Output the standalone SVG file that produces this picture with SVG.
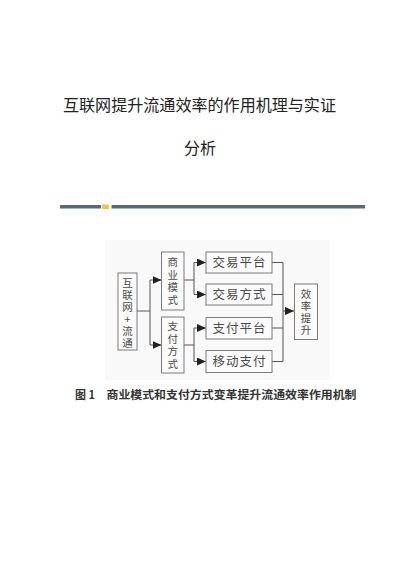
<svg xmlns="http://www.w3.org/2000/svg" width="400" height="565" viewBox="0 0 400 565">
<style>
.title{font-family:"Noto Sans CJK SC","Noto Sans CJK JP",sans-serif;font-size:16px;fill:#222;}
.box{fill:#fbfbfb;stroke:#7a7a7a;stroke-width:1;}
.lbl{font-family:"Noto Sans CJK SC",sans-serif;font-size:10.5px;fill:#4a4a4a;text-anchor:middle;}
.hl{font-family:"Noto Sans CJK SC",sans-serif;font-size:12.5px;fill:#4a4a4a;text-anchor:middle;letter-spacing:1px;}
.cap{font-family:"Noto Sans CJK SC",sans-serif;font-size:11px;font-weight:bold;fill:#333;}
.ln{fill:none;stroke:#555;stroke-width:1;}
</style>
<defs>
<marker id="ah" markerWidth="9" markerHeight="8" refX="9" refY="4" orient="auto" markerUnits="userSpaceOnUse">
<path d="M0,0 L9,4 L0,8 Z" fill="#222"/>
</marker>
</defs>
<rect width="400" height="565" fill="#ffffff"/>
<text class="title" x="63" y="111" textLength="273" lengthAdjust="spacingAndGlyphs">互联网提升流通效率的作用机理与实证</text>
<text class="title" x="200" y="154" text-anchor="middle">分析</text>
<rect x="60" y="205" width="41" height="3.5" fill="#566b78"/>
<rect x="102" y="204.5" width="7" height="4.5" fill="#f0c64a"/>
<rect x="111.5" y="205" width="253.5" height="3.5" fill="#566b78"/>
<rect x="105" y="240" width="225" height="140" fill="#f9f9f9"/>
<g id="connectors">
<path class="ln" d="M137,311 H150 M150,280 V345"/>
<path class="ln" d="M150,280 H161.5" marker-end="url(#ah)"/>
<path class="ln" d="M150,345 H161.5" marker-end="url(#ah)"/>
<path class="ln" d="M184,280 H194 M194,262.5 V294.5"/>
<path class="ln" d="M194,262.5 H206" marker-end="url(#ah)"/>
<path class="ln" d="M194,294.5 H206" marker-end="url(#ah)"/>
<path class="ln" d="M184,345 H194 M194,328 V361.5"/>
<path class="ln" d="M194,328 H206" marker-end="url(#ah)"/>
<path class="ln" d="M194,361.5 H206" marker-end="url(#ah)"/>
<path class="ln" d="M272,262.5 H283 M272,294.5 H283 M272,328 H283 M272,361.5 H283 M283,262.5 V361.5"/>
<path class="ln" d="M283,311 H294" marker-end="url(#ah)"/>
</g>
<g id="n-internet">
<rect class="box" x="118" y="273" width="19" height="77"/>
<text class="lbl"><tspan x="127.5" y="287">互</tspan><tspan x="127.5" y="299">联</tspan><tspan x="127.5" y="311">网</tspan><tspan x="127.5" y="323">+</tspan><tspan x="127.5" y="335">流</tspan><tspan x="127.5" y="347">通</tspan></text>
</g>
<g id="n-business">
<rect class="box" x="161.5" y="252" width="22.5" height="58"/>
<text class="lbl"><tspan x="172.75" y="266">商</tspan><tspan x="172.75" y="278.5">业</tspan><tspan x="172.75" y="291">模</tspan><tspan x="172.75" y="303.5">式</tspan></text>
</g>
<g id="n-payment">
<rect class="box" x="161.5" y="317" width="22.5" height="56"/>
<text class="lbl"><tspan x="172.75" y="330">支</tspan><tspan x="172.75" y="342.5">付</tspan><tspan x="172.75" y="355">方</tspan><tspan x="172.75" y="367.5">式</tspan></text>
</g>
<g id="n-trade-platform">
<rect class="box" x="206" y="252" width="66" height="21"/>
<text class="hl" x="239.5" y="267">交易平台</text>
</g>
<g id="n-trade-mode">
<rect class="box" x="206" y="284" width="66" height="21"/>
<text class="hl" x="239.5" y="299">交易方式</text>
</g>
<g id="n-pay-platform">
<rect class="box" x="206" y="317.5" width="66" height="21.5"/>
<text class="hl" x="239.5" y="332.5">支付平台</text>
</g>
<g id="n-mobile-pay">
<rect class="box" x="206" y="350.5" width="66" height="22"/>
<text class="hl" x="239.5" y="366">移动支付</text>
</g>
<g id="n-efficiency">
<rect class="box" x="294.5" y="284" width="23" height="55.5"/>
<text class="lbl"><tspan x="306" y="298">效</tspan><tspan x="306" y="310">率</tspan><tspan x="306" y="322">提</tspan><tspan x="306" y="334">升</tspan></text>
</g>
<text class="cap" x="75" y="399">图 1</text>
<text class="cap" x="106.5" y="399" textLength="250" lengthAdjust="spacingAndGlyphs">商业模式和支付方式变革提升流通效率作用机制</text>
</svg>
